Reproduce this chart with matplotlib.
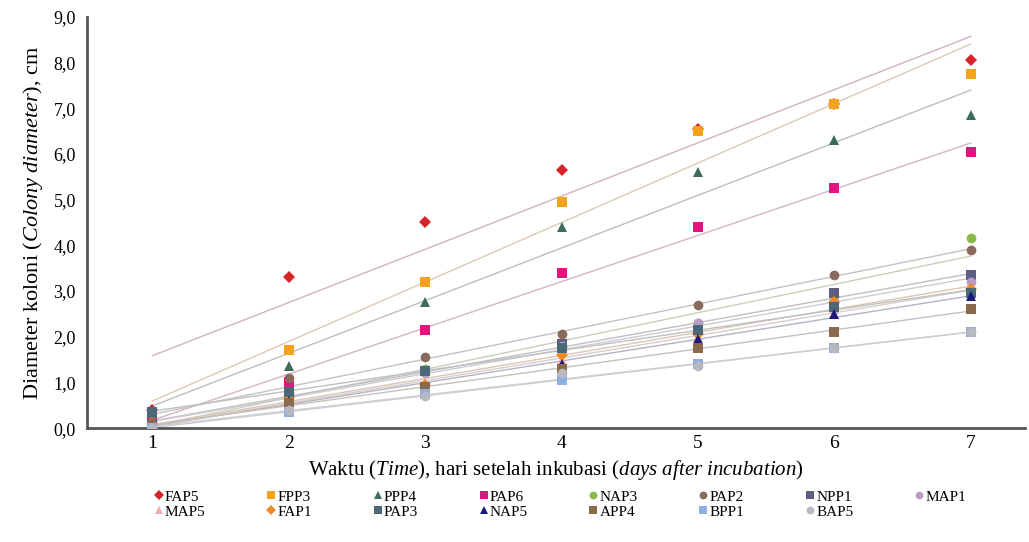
import numpy as np
import matplotlib
matplotlib.use('Agg')
import matplotlib.pyplot as plt
from matplotlib.colors import to_rgb
from matplotlib.ticker import FuncFormatter, MultipleLocator

plt.rcParams['font.family'] = ['Liberation Serif', 'DejaVu Serif']
plt.rcParams['mathtext.fontset'] = 'custom'
plt.rcParams['mathtext.rm'] = 'Liberation Serif'
plt.rcParams['mathtext.it'] = 'Liberation Serif:italic'

days = [1, 2, 3, 4, 5, 6, 7]

# diameter koloni (cm) per isolat
FAP5 = [0.40, 3.30, 4.50, 5.65, 6.55, 7.10, 8.05]
FPP3 = [0.30, 1.70, 3.20, 4.95, 6.50, 7.10, 7.75]
PPP4 = [0.35, 1.35, 2.75, 4.40, 5.60, 6.30, 6.85]
PAP6 = [0.20, 1.00, 2.15, 3.40, 4.40, 5.25, 6.05]
NAP3 = [0.10, 0.80, 1.30, 1.80, 2.30, 2.90, 4.15]
PAP2 = [0.15, 1.10, 1.55, 2.05, 2.70, 3.35, 3.90]
NPP1 = [0.10, 0.75, 1.25, 1.85, 2.15, 2.95, 3.35]
MAP1 = [0.05, 0.70, 1.20, 1.80, 2.30, 2.75, 3.20]
MAP5 = [0.05, 0.60, 1.00, 1.50, 2.00, 2.60, 3.00]
FAP1 = [0.10, 0.65, 0.95, 1.60, 2.05, 2.75, 3.05]
PAP3 = [0.35, 0.80, 1.25, 1.75, 2.15, 2.65, 2.95]
NAP5 = [0.10, 0.60, 0.85, 1.40, 1.95, 2.50, 2.90]
APP4 = [0.05, 0.55, 0.90, 1.30, 1.75, 2.10, 2.60]
BPP1 = [0.00, 0.35, 0.75, 1.05, 1.40, 1.75, 2.10]
BAP5 = [0.00, 0.40, 0.70, 1.20, 1.35, 1.75, 2.10]

names = ['FAP5', 'FPP3', 'PPP4', 'PAP6', 'NAP3', 'PAP2', 'NPP1', 'MAP1',
         'MAP5', 'FAP1', 'PAP3', 'NAP5', 'APP4', 'BPP1', 'BAP5']
series = [FAP5, FPP3, PPP4, PAP6, NAP3, PAP2, NPP1, MAP1,
          MAP5, FAP1, PAP3, NAP5, APP4, BPP1, BAP5]
colors = ['#d7242a', '#f4a21d', '#3f6b5a', '#e0157f', '#8db84a', '#8a6a5c',
          '#5d5f80', '#b89cc6', '#f0a9b0', '#f08a24', '#4a6878', '#1c1a78',
          '#8b6a4c', '#8fb0e0', '#b8b8c0']
markers = ['D', 's', '^', 's', 'o', 'o', 's', 'o',
           '^', 'D', 's', '^', 's', 's', 'o']

fig = plt.figure(figsize=(10.29, 5.42), dpi=100)
ax = fig.add_axes([0.0845, 0.21, 0.912, 0.759])

x = np.array(days, dtype=float)
handles = []
for name, y, c, m in zip(names, series, colors, markers):
    # garis tren linear
    k, b = np.polyfit(x, y, 1)
    lc = 0.18 * np.array(to_rgb(c)) + 0.82 * np.array(to_rgb('#d4d4d4'))
    ax.plot(x, k * x + b, color=lc, lw=1.0, zorder=1)
    ms = 7 if m != 'D' else 6
    h, = ax.plot(x, y, linestyle='none', marker=m, color=c, ms=ms,
                 markeredgewidth=0, label=name, zorder=3)
    handles.append(h)

ax.set_xlim(0.52, 7.4)
ax.set_ylim(0, 9)
ax.set_xticks(days)
ax.yaxis.set_major_locator(MultipleLocator(1))
ax.yaxis.set_major_formatter(FuncFormatter(lambda v, p: f'{v:.1f}'.replace('.', ',')))
ax.tick_params(axis='y', length=0, labelsize=13, pad=8)
ax.tick_params(axis='x', length=0, labelsize=14, pad=5)

for s in ['top', 'right']:
    ax.spines[s].set_visible(False)
for s in ['left', 'bottom']:
    ax.spines[s].set_color('#555555')
    ax.spines[s].set_linewidth(2)

ax.set_ylabel(r'Diameter koloni $\mathit{(Colony\ diameter)}$, cm', fontsize=16, labelpad=6)
ax.set_xlabel(r'Waktu $\mathit{(Time)}$, hari setelah inkubasi $\mathit{(days\ after\ incubation)}$',
              fontsize=15, labelpad=4)

# legenda: urutkan supaya terisi per baris
order = []
for i in range(8):
    order.append(i)
    if i + 8 < len(handles):
        order.append(i + 8)
ax.legend([handles[i] for i in order], [names[i] for i in order],
          loc='upper left', bbox_to_anchor=(0.065, -0.135), ncol=8, frameon=False,
          fontsize=11, handlelength=0.6, handletextpad=0.1, columnspacing=4.0,
          labelspacing=0.1, borderaxespad=0, markerscale=0.8)

plt.savefig('out.png', dpi=100)
